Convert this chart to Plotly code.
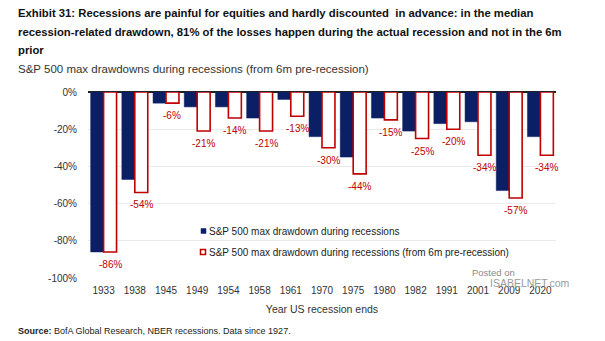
import plotly.graph_objects as go

years = ["1933", "1938", "1945", "1949", "1954", "1958", "1961", "1970",
         "1975", "1980", "1982", "1991", "2001", "2009", "2020"]
during = [-86, -47, -6, -8, -8, -14, -4, -24, -35, -14, -21, -17, -16, -53, -24]
from_6m = [-86, -54, -6, -21, -14, -21, -13, -30, -44, -15, -25, -20, -34, -57, -34]
y_ticks = [0, -20, -40, -60, -80, -100]
y_tick_labels = ["0%", "-20%", "-40%", "-60%", "-80%", "-100%"]
series_names = ["S&P 500 max drawdown during recessions",
                "S&P 500 max drawdown during recessions (from 6m pre-recession)"]

NAVY = "#0A1F64"
RED = "#C00000"
W, H = 605, 341
L, R, T, B = 88, 556, 92, 278
FONT = "Liberation Sans, Arial, sans-serif"
BARGAP = 0.17


def px(x):
    return (x - L) / (R - L)


def py(y):
    return (B - y) / (B - T)


fig = go.Figure()
fig.add_trace(go.Bar(
    x=years, y=during, name=series_names[0],
    marker=dict(color=NAVY, line=dict(color=NAVY, width=0.5)),
    showlegend=False,
))
fig.add_trace(go.Bar(
    x=years, y=from_6m, name=series_names[1],
    marker=dict(color="white", line=dict(color=RED, width=1.6)),
    showlegend=False,
))

fig.update_layout(
    width=W, height=H,
    margin=dict(l=L, r=W - R, t=T, b=H - B),
    paper_bgcolor="white", plot_bgcolor="white",
    barmode="group", bargap=BARGAP, bargroupgap=0.0,
    font=dict(family=FONT, size=10, color="#333333"),
    xaxis=dict(
        type="category", categoryorder="array", categoryarray=years,
        range=[-0.5, len(years) - 0.5], autorange=False,
        showgrid=False, showline=False,
        ticks="outside", ticklen=3, tickcolor="rgba(0,0,0,0)",
        tickfont=dict(size=10, color="#333333"),
        title=dict(text="Year US recession ends", font=dict(size=10.5, color="#333333"),
                   standoff=10),
    ),
    yaxis=dict(
        range=[-100, 0], autorange=False, tickvals=y_ticks, ticktext=y_tick_labels,
        showgrid=True, gridcolor="#EBEBEB", gridwidth=1,
        zeroline=True, zerolinecolor="#222222", zerolinewidth=1.5,
        ticks="outside", ticklen=8, tickcolor="rgba(0,0,0,0)",
        tickfont=dict(size=10, color="#333333"),
    ),
)

# legend drawn as small swatches + text
shapes = [
    dict(type="rect", xref="paper", yref="paper",
         x0=px(201), x1=px(206), y0=py(233.5), y1=py(228.5),
         fillcolor=NAVY, line=dict(color=NAVY, width=0.5)),
    dict(type="rect", xref="paper", yref="paper",
         x0=px(200.5), x1=px(205.5), y0=py(254.5), y1=py(249.5),
         fillcolor="white", line=dict(color=RED, width=1.5)),
]
fig.update_layout(shapes=shapes)

# value labels under the red bars (data coordinates: category index, value)
cat_px = (R - L) / len(years)
red_offset = cat_px * (1 - BARGAP) / 4
value_labels = [
    dict(x=i, y=v, xref="x", yref="y", text=f"{v}%", showarrow=False,
         xanchor="center", yanchor="top", xshift=red_offset, yshift=-5,
         font=dict(size=10, color=RED, family=FONT))
    for i, v in enumerate(from_6m)
]

annotations = [
    dict(text="<b>Exhibit 31: Recessions are painful for equities and hardly discounted  in advance: in the median</b>",
         x=px(16), y=py(13.5), font=dict(size=11.3, color="#111111")),
    dict(text="<b>recession-related drawdown, 81% of the losses happen during the actual recession and not in the 6m</b>",
         x=px(16), y=py(32), font=dict(size=11.3, color="#111111")),
    dict(text="<b>prior</b>",
         x=px(16), y=py(50), font=dict(size=11.3, color="#111111")),
    dict(text="S&P 500 max drawdowns during recessions (from 6m pre-recession)",
         x=px(16), y=py(69), font=dict(size=11.5, color="#333333")),
    dict(text=series_names[0], x=px(207), y=py(231), font=dict(size=10, color="#222222")),
    dict(text=series_names[1], x=px(207), y=py(252), font=dict(size=10, color="#222222")),
    dict(text="<b>Source:</b> BofA Global Research, NBER recessions. Data since 1927.",
         x=px(16), y=py(331), font=dict(size=9, color="#222222")),
    dict(text="Posted on", x=px(470), y=py(272), font=dict(size=9.5, color="#8A8A8A")),
    dict(text="ISABELNET.com", x=px(488), y=py(283), font=dict(size=10.5, color="#9A9A9A")),
]
for a in annotations:
    a.update(xref="paper", yref="paper", xanchor="left", yanchor="middle", showarrow=False)
fig.update_layout(annotations=value_labels + annotations)

fig.write_html("out.html")
